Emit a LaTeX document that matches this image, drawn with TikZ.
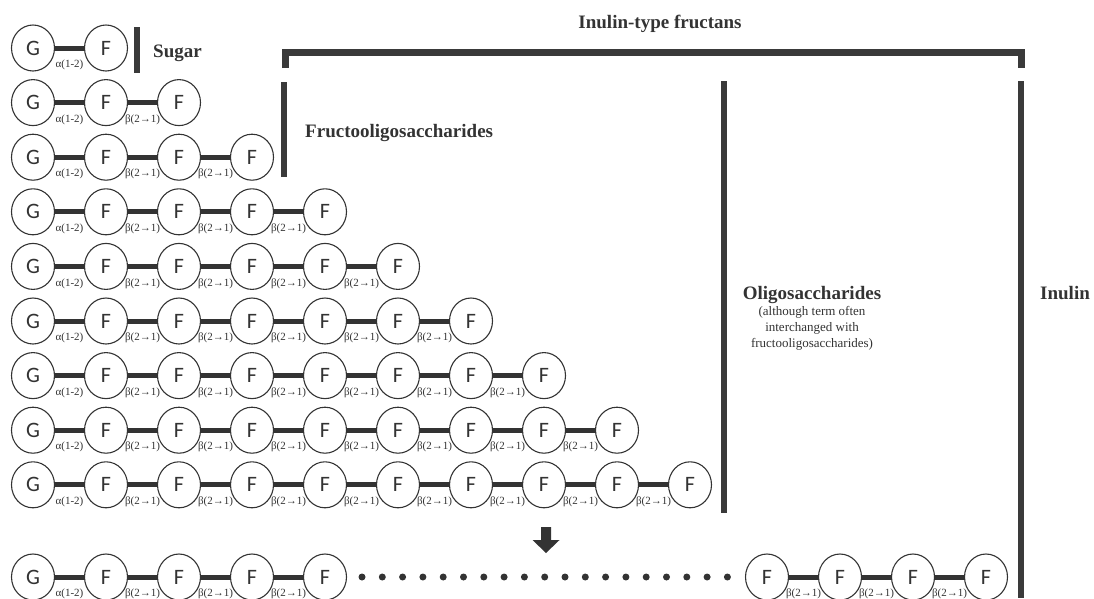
\documentclass[tikz,border=0pt]{standalone}
\usepackage{fontspec}
\usepackage{tikz}
\usetikzlibrary{shapes.geometric,calc}
\setmainfont{Liberation Serif}
\newfontfamily\sacfont{Carlito}
\definecolor{ink}{HTML}{333333}
\definecolor{barc}{HTML}{3A3A3A}

\begin{document}
\begin{tikzpicture}[x=1pt,y=-1pt,
  sac/.style={ellipse,draw=ink,line width=1.1pt,minimum width=43pt,minimum height=46pt,
              inner sep=0pt,text=ink,font=\sacfont\fontsize{22}{22}\selectfont},
  bond/.style={ink,line width=5pt},
  lnk/.style={inner sep=0pt,text=ink,font=\fontsize{11}{11}\selectfont},
  bar/.style={barc,line width=6pt},
  ttl/.style={inner sep=0pt,text=ink,font=\bfseries\fontsize{19}{19}\selectfont}
]
\useasboundingbox (0,0) rectangle (1094,598);
% ---- chains of growing length
\foreach \r in {1,...,9}{
  \pgfmathsetmacro\ry{48+(\r-1)*54.6}
  \node[sac] (r\r-0) at (33,\ry) {G};
  \foreach \k in {1,...,\r}{
    \pgfmathtruncatemacro\p{\k-1}
    \node[sac] (r\r-\k) at ({106+73*(\k-1)},\ry) {F};
    \draw[bond] (r\r-\p) -- (r\r-\k);
    \path (r\r-\p.east) -- (r\r-\k.west)
      node[lnk,midway,yshift=-17pt] {\ifnum\k=1 α(1-2)\else β(2→1)\fi};
  }
}
% ---- long chain
\node[sac] (b0) at (33,577) {G};
\foreach \k in {1,...,4}
  \node[sac] (b\k) at ({106+73*(\k-1)},577) {F};
\foreach \k in {5,...,8}
  \node[sac] (b\k) at ({767+73*(\k-5)},577) {F};
\foreach \a/\b/\t in {0/1/α(1-2), 1/2/β(2→1), 2/3/β(2→1), 3/4/β(2→1),
                      5/6/β(2→1), 6/7/β(2→1), 7/8/β(2→1)}{
  \draw[bond] (b\a) -- (b\b);
  \path (b\a.east) -- (b\b.west) node[lnk,midway,yshift=-17pt] {\t};
}
\foreach \i in {0,...,18}
  \fill[ink] ({362+\i*20.3},577) circle (3.5pt);
\fill[ink] (541,527) -- (551,527) -- (551,540) -- (559.5,540) -- (546,553)
  -- (532.5,540) -- (541,540) -- cycle;
% ---- group bars
\draw[bar] (136.5,27) -- (136.5,73);
\draw[bar] (283.5,82) -- (283.5,177);
\draw[bar] (723.5,81) -- (723.5,513);
\draw[bar] (1021,81) -- (1021,598);
\draw[barc,line width=7pt,line join=miter] (285,68) -- (285,52.5) -- (1021,52.5) -- (1021,68);
% ---- labels
\node[ttl,anchor=base] (itf) at (660,28) {Inulin-type fructans};
\node[ttl,anchor=base west] (sug) at (153,57) {Sugar};
\node[ttl,anchor=base west] (fos) at (305,137) {Fructooligosaccharides};
\node[ttl,anchor=base] (oli) at (812,299) {Oligosaccharides};
\node[text=ink,align=center,anchor=north,inner sep=0pt,
      font=\fontsize{13}{16}\selectfont] (olin) at (812,306)
  {(although term often\\interchanged with\\fructooligosaccharides)};
\node[ttl,anchor=base west] (inu) at (1040,299) {Inulin};
\end{tikzpicture}
\end{document}
